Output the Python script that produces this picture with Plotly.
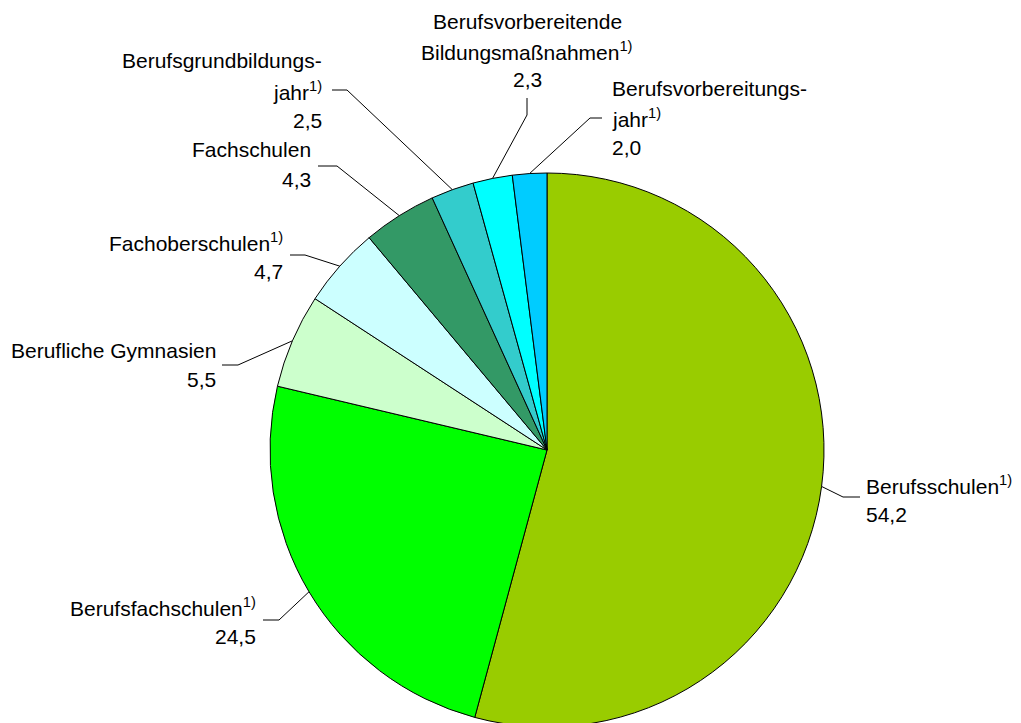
import math
import plotly.graph_objects as go

# ---- data ----
categories = ["Berufsschulen", "Berufsfachschulen", "Berufliche Gymnasien",
              "Fachoberschulen", "Fachschulen", "Berufsgrundbildungsjahr",
              "Berufsvorbereitende Bildungsmaßnahmen", "Berufsvorbereitungsjahr"]
values = [54.2, 24.5, 5.5, 4.7, 4.3, 2.5, 2.3, 2.0]
label_lines = [["Berufsschulen<sup>1)</sup>"],
               ["Berufsfachschulen<sup>1)</sup>"],
               ["Berufliche Gymnasien"],
               ["Fachoberschulen<sup>1)</sup>"],
               ["Fachschulen"],
               ["Berufsgrundbildungs-", "jahr<sup>1)</sup>"],
               ["Berufsvorbereitende", "Bildungsmaßnahmen<sup>1)</sup>"],
               ["Berufsvorbereitungs-", "jahr<sup>1)</sup>"]]
colors = ["#99CC00", "#00FF00", "#CCFFCC", "#CCFFFF", "#339966",
          "#33CCCC", "#00FFFF", "#00CCFF"]

# ---- layout (pixels, screen coordinates) ----
W, H = 1021, 723
OFF = 8  # page body margin
CX, CY, R = 547, 450, 277
FONT = "Liberation Sans, Arial, sans-serif"
FS = 21
PITCH = 29.5
# anchor x, xanchor, first line y, elbow point, end point
label_pos = [
    (864, "left", 485, (843, 497), (860, 497)),
    (258, "right", 607, (279, 620), (263, 620)),
    (218, "right", 350, (238, 365), (222, 365)),
    (285, "right", 242, (305, 255), (290, 255)),
    (313, "right", 150, (337, 166), (318, 166)),
    (324, "right", 61, (347, 90), (332, 90)),
    (527, "center", 21, (527, 115), (527, 98)),
    (610, "left", 88, (590, 118), (602, 118)),
]

def px(x):
    return (x - OFF) / W

def py(y):
    return 1 - (y - OFF) / H

fig = go.Figure(go.Pie(
    labels=categories, values=values, sort=False, direction="clockwise",
    rotation=0, textinfo="none", showlegend=False,
    marker=dict(colors=colors, line=dict(color="black", width=1)),
    domain=dict(x=[px(CX - R), px(CX + R)], y=[py(CY + R), py(CY - R)]),
))

annotations = []
shapes = []
total = sum(values)
cum = 0.0
for v, lines, pos in zip(values, label_lines, label_pos):
    mid = (cum + v / 2) / total * 2 * math.pi
    cum += v
    ex = CX + R * math.sin(mid)
    ey = CY - R * math.cos(mid)
    ax, anchor, y0, elbow, end = pos
    texts = lines + [f"{v:.1f}".replace(".", ",")]
    for i, t in enumerate(texts):
        annotations.append(dict(
            x=px(ax), y=py(y0 + i * PITCH), xref="paper", yref="paper",
            text=t, showarrow=False, xanchor=anchor, yanchor="middle",
            font=dict(family=FONT, size=FS, color="black")))
    path = (f"M {px(ex)} {py(ey)} L {px(elbow[0])} {py(elbow[1])} "
            f"L {px(end[0])} {py(end[1])}")
    shapes.append(dict(type="path", xref="paper", yref="paper", path=path,
                       line=dict(color="black", width=1)))

fig.update_layout(
    width=W, height=H, margin=dict(l=0, r=0, t=0, b=0),
    paper_bgcolor="white", plot_bgcolor="white",
    annotations=annotations, shapes=shapes,
)

fig.write_html("out.html")
